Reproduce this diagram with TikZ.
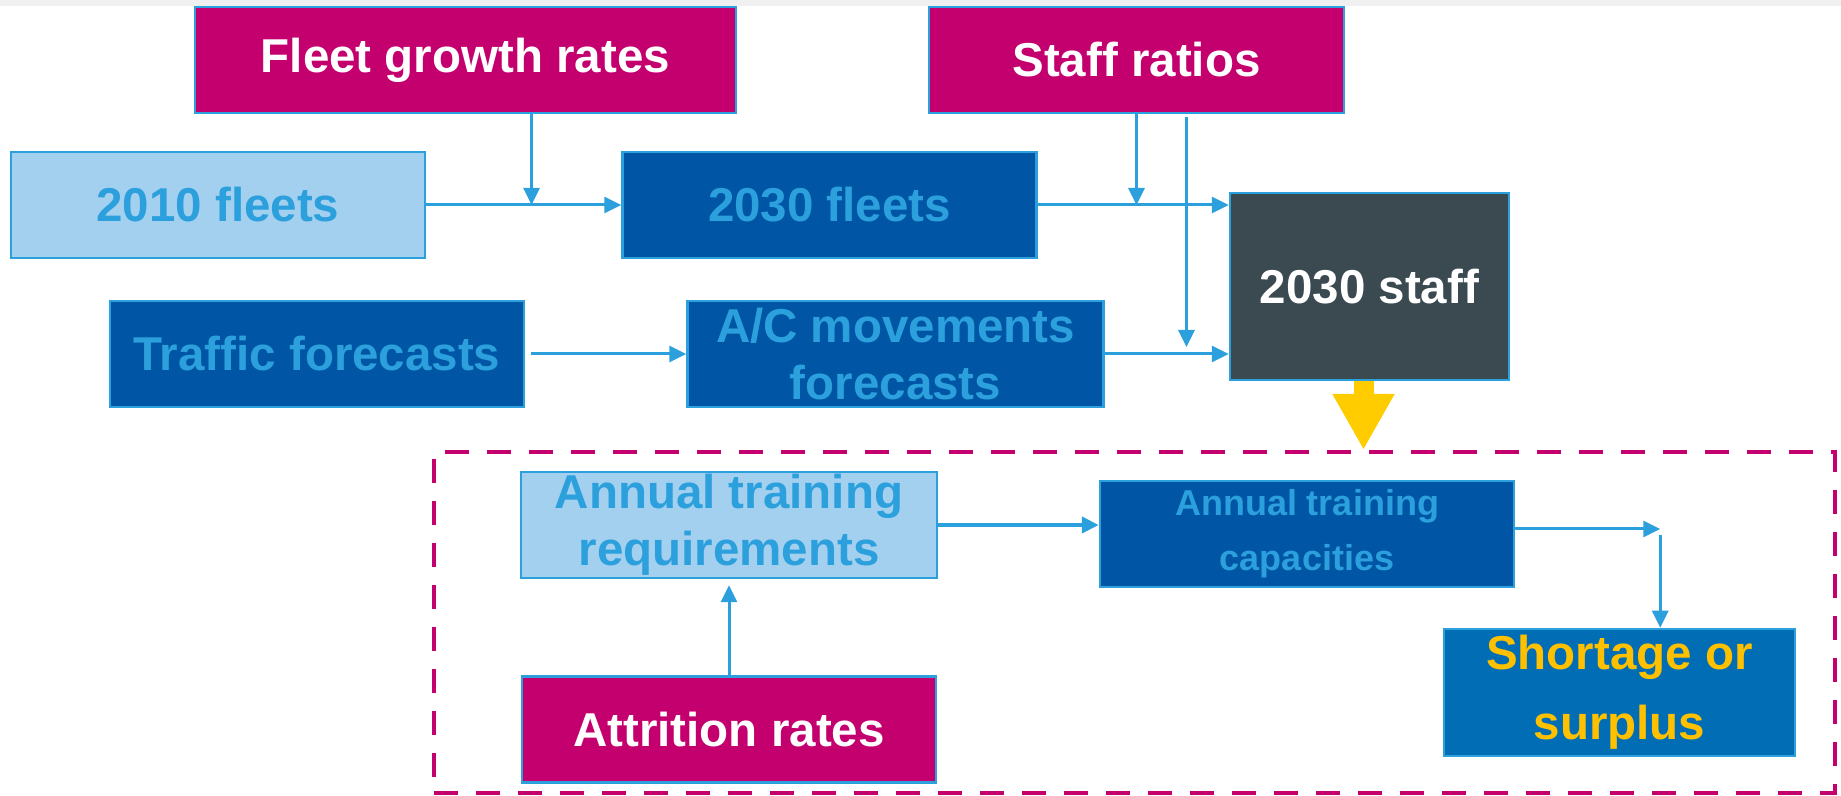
\documentclass[tikz,border=0pt]{standalone}
\usepackage{fontspec}
\setmainfont{Liberation Sans}
\usepackage{tikz}
\usetikzlibrary{positioning, calc}
\usetikzlibrary{arrows.meta}
\definecolor{rim}{HTML}{2CA0DC}
\definecolor{plum}{HTML}{C4006F}
\definecolor{pale}{HTML}{A4D0F0}
\definecolor{deepblue}{HTML}{0055A5}
\definecolor{slate}{HTML}{3A4A50}
\definecolor{sea}{HTML}{006DB5}
\definecolor{gold}{HTML}{FFC000}
\definecolor{sun}{HTML}{FFCC00}

\begin{document}
\begin{tikzpicture}[x=1pt, y=1pt,
    box/.style={draw=rim, line width=2.5pt, inner sep=0pt, minimum width=414pt,
        minimum height=106pt, align=center, font=\bfseries\fontsize{47.5}{57}\selectfont},
    input/.style={box, fill=plum, text=white},
    light/.style={box, fill=pale, text=rim},
    dark/.style={box, fill=deepblue, text=rim},
    link/.style={every edge/.style={draw=rim, line width=3pt,
        -{Triangle[length=17pt, width=16pt]}}}]
    \useasboundingbox (0,0) rectangle (1841,795);
    \fill[black!6] (0,789) rectangle (1841,795);
    \node (fl10) [light] at (218,590) {2010 fleets};
    \node (fl30) [dark, right=195pt of fl10] {2030 fleets};
    \node (growth) [input, minimum width=541pt] at (465.5,735) {Fleet growth rates};
    \node (ratios) [input, minimum width=415pt] at (1136.5,735) {Staff ratios};
    \node (traffic) [dark] at (317,441) {Traffic forecasts};
    \node (moves) [dark, minimum width=416pt, right=161pt of traffic] {A/C movements\\forecasts};
    \node (staff) [box, fill=slate, text=white, minimum width=279pt, minimum height=187pt]
        at (1369.5,508.5) {2030 staff};
    \node (zone) [draw=plum, line width=4pt, dash pattern=on 24pt off 18pt, inner sep=0pt,
        minimum width=1401pt, minimum height=341pt] at (1134.5,172.5) {};
    \node (req) [light, minimum width=416pt] at (729,270) {Annual training\\requirements};
    \node (cap) [dark, font=\bfseries\fontsize{36}{55}\selectfont] at (1307,261)
        {Annual training\\capacities};
    \node (attr) [input, below=96pt of req] {Attrition rates};
    \node (short) [box, fill=sea, text=gold, minimum width=351pt, minimum height=127pt,
        font=\bfseries\fontsize{47.5}{70}\selectfont] at (1619.5,102.5) {Shortage or\\surplus};
    \coordinate (j1) at ($(fl10.east)!0.54!(fl30.west)$);
    \coordinate (j2) at ($(ratios.south)+(50,-3)$);
    \coordinate (turn) at ($(cap.east)+(145,5)$);
    \path[link]
        (fl10) edge (fl30)
        (growth.south -| j1) edge (j1)
        (ratios.south) edge (ratios.south |- fl30.east)
        (fl30.east) edge (fl30.east -| staff.west)
        (traffic) edge[shorten <=6pt] (moves)
        (moves.east) edge (moves.east -| staff.west)
        (j2) edge ($(j2 |- moves.east)+(0,7)$)
        (attr.north) edge[shorten >=6pt] (attr.north |- req.south)
        (cap.east |- turn) edge (turn)
        ($(turn)+(0,-6)$) edge (turn |- short.north)
        (req.east) edge[line width=4.5pt] (req.east -| cap.west);
    \draw[sun, line width=20pt, -{Triangle[length=56pt, width=58pt]}]
        ([xshift=-6pt]staff.south) -- ([xshift=-6pt]staff.south |- zone.north);
\end{tikzpicture}
\end{document}
